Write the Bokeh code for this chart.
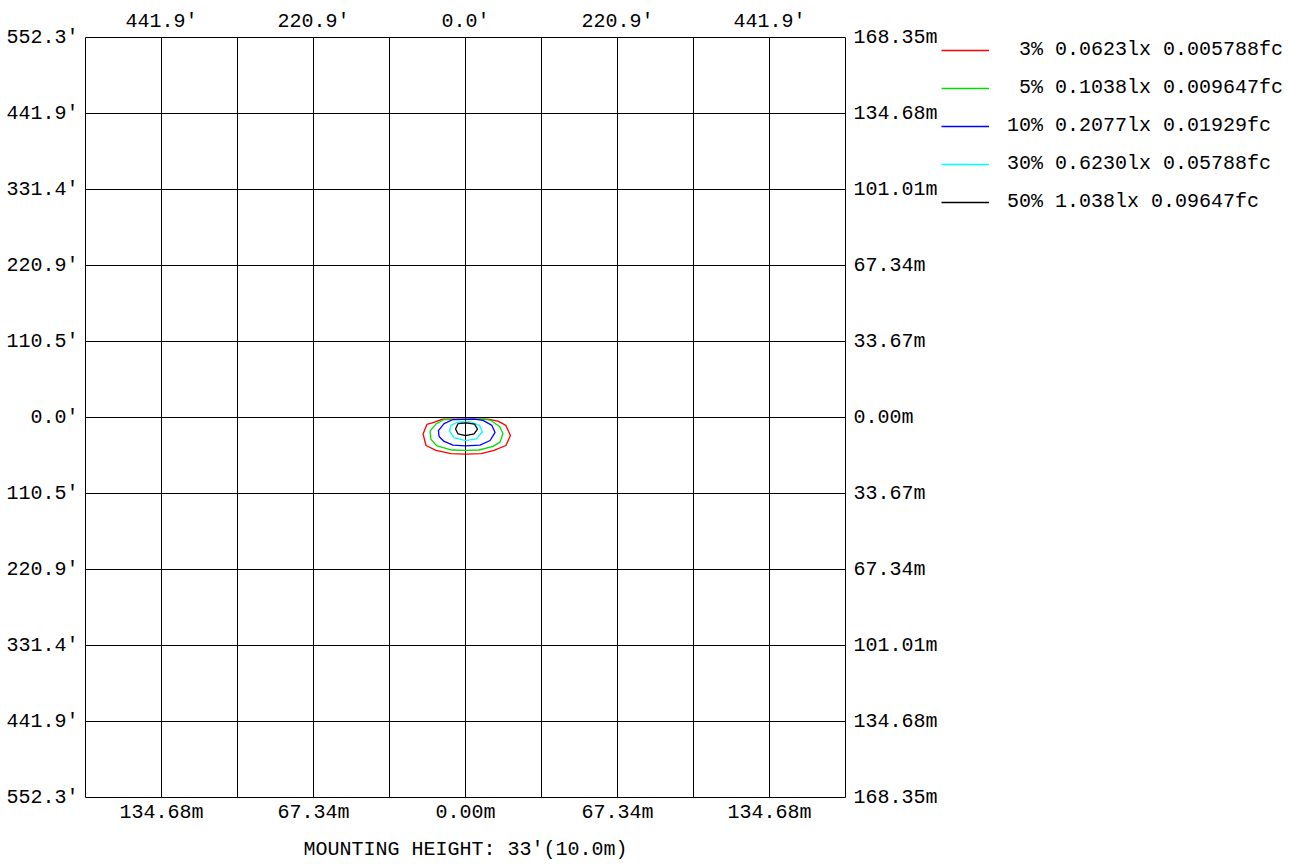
from bokeh.plotting import figure
from bokeh.layouts import row
from bokeh.models import Range1d, LinearAxis, FixedTicker, Legend, LegendItem, Grid, ColumnDataSource
from bokeh.embed import file_html
from bokeh.resources import INLINE

# grid positions (metres) and tick labels
grid_m = [-168.35, -134.68, -101.01, -67.34, -33.67, 0.0, 33.67, 67.34, 101.01, 134.68, 168.35]
y_labels_ft = ["552.3'", "441.9'", "331.4'", "220.9'", "110.5'", "0.0'",
               "110.5'", "220.9'", "331.4'", "441.9'", "552.3'"]
y_labels_m = ["168.35m", "134.68m", "101.01m", "67.34m", "33.67m", "0.00m",
              "33.67m", "67.34m", "101.01m", "134.68m", "168.35m"]
x_ticks = [-134.68, -67.34, 0.0, 67.34, 134.68]
x_top_labels = ["441.9'", "220.9'", "0.0'", "220.9'", "441.9'"]
x_bottom_labels = ["134.68m", "67.34m", "0.00m", "67.34m", "134.68m"]

# isolux contours (metres)
red_x = [-10.2, -14.0, -17.1, -18.8, -17.5, -13.1, -6.4, 0.0, 6.9, 12.6, 17.9, 19.9, 17.9, 14.4, 10.0, -10.2]
red_y = [-0.7, -2.2, -3.1, -7.3, -12.4, -14.6, -16.0, -16.2, -16.0, -14.6, -12.4, -8.0, -3.5, -1.6, -0.7, -0.7]
green_x = [-9.5, -13.1, -15.7, -15.3, -12.6, -6.0, 0.0, 6.0, 12.2, 15.3, 16.6, 15.1, 11.3, 8.2, -9.5]
green_y = [-0.9, -2.9, -6.0, -9.7, -12.6, -14.4, -14.6, -14.4, -12.8, -10.9, -7.1, -4.0, -1.3, -0.7, -0.9]
blue_x = [-5.5, -9.5, -12.0, -11.7, -9.5, -5.5, 0.0, 6.4, 10.9, 13.1, 11.7, 7.8, 3.8, -5.5]
blue_y = [-0.9, -2.7, -5.8, -8.4, -10.6, -12.2, -12.6, -12.2, -10.2, -6.6, -3.5, -1.3, -0.7, -0.9]
cyan_x = [-3.3, -6.4, -7.1, -5.1, 0.0, 4.7, 7.5, 6.2, 2.4, -3.3]
cyan_y = [-2.0, -3.5, -6.0, -8.9, -10.2, -9.5, -6.4, -3.5, -2.0, -2.0]
black_x = [-3.3, -4.4, -3.3, 0.0, 3.8, 5.3, 4.0, 0.2, -3.3]
black_y = [-2.7, -5.1, -7.3, -8.0, -7.3, -5.1, -2.9, -2.4, -2.7]

levels = ["\u00a03% 0.0623lx 0.005788fc", "\u00a05% 0.1038lx 0.009647fc",
          "10% 0.2077lx 0.01929fc", "30% 0.6230lx 0.05788fc", "50% 1.038lx 0.09647fc"]
colors = ["#ff0000", "#00dd00", "#0000ff", "#00ffff", "#000000"]
contours = [(red_x, red_y), (green_x, green_y), (blue_x, blue_y), (cyan_x, cyan_y), (black_x, black_y)]

FONT = "Liberation Mono"
FS = "20px"

p = figure(width=940, height=863,
           x_range=Range1d(-168.35, 168.35), y_range=Range1d(-168.35, 168.35),
           toolbar_location=None, output_backend="svg",
           x_axis_location=None, y_axis_location=None,
           min_border_left=85, min_border_top=37, min_border_right=95, min_border_bottom=66)
p.outline_line_color = "black"
p.outline_line_width = 1
p.background_fill_color = "white"
p.border_fill_color = "white"

# drop any default grids, then add the fixed black grid
for g in list(p.center):
    if isinstance(g, Grid):
        p.center.remove(g)
p.add_layout(Grid(dimension=0, ticker=FixedTicker(ticks=grid_m), grid_line_color="black", grid_line_width=1))
p.add_layout(Grid(dimension=1, ticker=FixedTicker(ticks=grid_m), grid_line_color="black", grid_line_width=1))


def make_axis(ticks, labels, standoff):
    return LinearAxis(ticker=FixedTicker(ticks=ticks),
                      major_label_overrides=dict(zip(ticks, labels)),
                      axis_line_color=None, major_tick_line_color=None,
                      minor_tick_line_color=None, major_tick_in=0, major_tick_out=0,
                      major_label_standoff=standoff,
                      major_label_text_font=FONT, major_label_text_font_size=FS,
                      major_label_text_color="black")


left = make_axis(grid_m, y_labels_ft, 7)
right = make_axis(grid_m, y_labels_m, 8)
top = make_axis(x_ticks, x_top_labels, 5)
bottom = make_axis(x_ticks, x_bottom_labels, 3)
bottom.axis_label = "MOUNTING HEIGHT: 33'(10.0m)"
bottom.axis_label_text_font = FONT
bottom.axis_label_text_font_size = FS
bottom.axis_label_text_font_style = "normal"
bottom.axis_label_text_color = "black"
bottom.axis_label_standoff = 11

p.add_layout(left, "left")
p.add_layout(right, "right")
p.add_layout(top, "above")
p.add_layout(bottom, "below")

sources = [ColumnDataSource(data=dict(x=cx, y=cy)) for cx, cy in contours]
for src, col in zip(sources, colors):
    p.line("x", "y", source=src, line_color=col, line_width=1.3)

# legend panel to the right of the plot (shares the contour sources; its range shows none of them)
p2 = figure(width=345, height=863, x_range=Range1d(100, 101), y_range=Range1d(100, 101),
            toolbar_location=None, output_backend="svg",
            x_axis_location=None, y_axis_location=None,
            min_border_left=0, min_border_right=0, min_border_top=37, min_border_bottom=0)
p2.outline_line_color = None
p2.background_fill_color = "white"
p2.border_fill_color = "white"
for g in list(p2.center):
    if isinstance(g, Grid):
        p2.center.remove(g)

items = []
for src, col, lab in zip(sources, colors, levels):
    r = p2.line("x", "y", source=src, line_color=col, line_width=1.3)
    items.append(LegendItem(label=lab, renderers=[r]))

legend = Legend(items=items, location="top_left", glyph_width=48, glyph_height=20,
                label_height=20, spacing=15, label_standoff=18, padding=0, margin=1,
                border_line_color=None, background_fill_alpha=0,
                label_text_font=FONT, label_text_font_size=FS, label_text_color="black")
p2.add_layout(legend, "center")

open("out.html", "w").write(file_html(row(p, p2), INLINE))
